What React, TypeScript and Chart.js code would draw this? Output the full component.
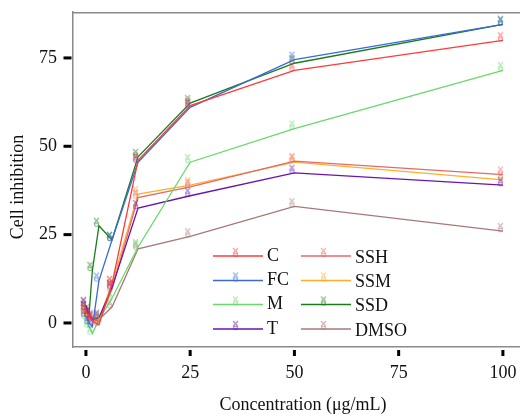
import React, { useEffect, useRef } from "react";
import { Chart, registerables } from "chart.js";

Chart.register(...registerables);

const concentrations = [0, 0.78, 1.56, 3.125, 6.25, 12.5, 25, 50, 100];
const seriesNames = ["C", "FC", "M", "T", "SSH", "SSM", "SSD", "DMSO"];
const C = [3, 2, 0.5, -0.5, 11, 46, 61.5, 71.5, 80];
const FC = [2, 0, -1, 12, 23.5, 45.5, 61, 74.5, 84.5];
const M = [1.5, -1, -3, 1, 7, 21.5, 45.5, 55, 71.5];
const T = [5, 2, 1, 1.5, 10, 32.5, 36, 42.5, 39];
const SSH = [4, 2, 1, 0.5, 9.5, 35.5, 38.5, 45.8, 42];
const SSM = [3, 1.5, 1, 1, 11, 36.5, 39, 45.5, 40.5];
const SSD = [4, 3, 15, 27.5, 23.5, 47, 62.2, 73.5, 84.5];
const DMSO = [5, 2, 1.5, 1, 4.5, 21, 24.5, 33, 26];
const seriesValues = [C, FC, M, T, SSH, SSM, SSD, DMSO];
const seriesColors = ["#ff3a3a", "#3a6ad8", "#6ad86a", "#6a14b0", "#e86868", "#ffae2a", "#1a7d1a", "#a87878"];
const xTicks = [0, 25, 50, 75, 100];
const yTicks = [0, 25, 50, 75];

const FONT = "'Liberation Serif', 'Times New Roman', serif";

function makeMarker(color: string): HTMLCanvasElement {
  const c = document.createElement("canvas");
  c.width = 18;
  c.height = 18;
  const ctx = c.getContext("2d")!;
  ctx.globalAlpha = 0.5;
  ctx.strokeStyle = color;
  ctx.lineWidth = 1.2;
  const cx = 6.5, cy = 5;
  ctx.beginPath();
  ctx.moveTo(cx - 2.5, cy - 4);
  ctx.lineTo(cx + 2.5, cy + 1.5);
  ctx.moveTo(cx + 2.5, cy - 4);
  ctx.lineTo(cx - 2.5, cy + 1.5);
  ctx.stroke();
  ctx.beginPath();
  ctx.ellipse(cx, cy + 3, 2, 1.6, 0, 0, Math.PI * 2);
  ctx.stroke();
  return c;
}

export default function App() {
  const ref = useRef<HTMLCanvasElement | null>(null);
  useEffect(() => {
    if (!ref.current) return;
    const markers = seriesColors.map((c) => makeMarker(c));
    const datasets = seriesNames.map((name, i) => ({
      label: name,
      data: concentrations.map((x, j) => ({ x, y: seriesValues[i][j] })),
      borderColor: seriesColors[i],
      backgroundColor: seriesColors[i],
      borderWidth: 1.3,
      pointStyle: markers[i] as any,
      pointRadius: 4,
      showLine: true,
      tension: 0,
    }));
    const decor = {
      id: "decor",
      afterDraw(chart: any) {
        const ctx = chart.ctx;
        const a = chart.chartArea;
        const xs = chart.scales.x;
        const ys = chart.scales.y;
        ctx.save();
        // top border
        ctx.strokeStyle = "#8a8a8a";
        ctx.lineWidth = 1.5;
        ctx.beginPath();
        ctx.moveTo(a.left, a.top + 0.75);
        ctx.lineTo(a.right, a.top + 0.75);
        ctx.stroke();
        // ticks and tick labels
        ctx.font = `18px ${FONT}`;
        ctx.textBaseline = "middle";
        ctx.textAlign = "center";
        xTicks.forEach((v) => {
          const px = xs.getPixelForValue(v);
          ctx.fillStyle = "#000";
          ctx.fillRect(px - 1.5, a.bottom + 3, 3, 6);
          ctx.fillStyle = "#111";
          ctx.fillText(String(v), px, 373);
        });
        ctx.textAlign = "right";
        yTicks.forEach((v) => {
          const py = ys.getPixelForValue(v);
          ctx.fillStyle = "#000";
          ctx.fillRect(a.left - 9.5, py - 1.5, 8, 3);
          ctx.fillStyle = "#111";
          ctx.fillText(String(v), 57, py);
        });
        // titles
        ctx.fillStyle = "#111";
        ctx.font = `18px ${FONT}`;
        ctx.textAlign = "center";
        ctx.textBaseline = "middle";
        ctx.fillText("Concentration (\u03bcg/mL)", 303, 405);
        ctx.save();
        ctx.translate(18, 187);
        ctx.rotate(-Math.PI / 2);
        ctx.fillText("Cell inhibition", 0, 0);
        ctx.restore();
        // legend
        const colX = [213, 301];
        const rowY = [256, 280.5, 304.5, 329];
        ctx.font = `18px ${FONT}`;
        ctx.textAlign = "left";
        seriesNames.forEach((name, i) => {
          const col = i < 4 ? 0 : 1;
          const row = i % 4;
          const x0 = colX[col];
          const y0 = rowY[row];
          ctx.strokeStyle = seriesColors[i];
          ctx.lineWidth = 1.3;
          ctx.beginPath();
          ctx.moveTo(x0, y0);
          ctx.lineTo(x0 + 50, y0);
          ctx.stroke();
          const m = markers[i];
          ctx.drawImage(m, x0 + 25 - m.width / 2, y0 - m.height / 2);
          ctx.fillStyle = "#111";
          ctx.fillText(name, x0 + 54, y0 + (col === 1 ? 2 : 0));
        });
        ctx.restore();
      },
    };
    const chart = new Chart(ref.current, {
      type: "scatter",
      data: { datasets: datasets as any },
      options: {
        animation: false,
        responsive: false,
        layout: { autoPadding: false, padding: { top: 12, right: 0, left: 0, bottom: 0 } },
        plugins: { legend: { display: false }, tooltip: { enabled: false } },
        scales: {
          x: {
            type: "linear",
            min: -3.1,
            max: 104.1,
            grid: { display: false, drawTicks: false },
            border: { display: true, color: "#8a8a8a", width: 1.5 },
            afterFit: (s: any) => {
              s.height = 69;
              s.paddingLeft = 0;
              s.paddingRight = 0;
            },
            ticks: { display: false },
          },
          y: {
            type: "linear",
            min: -6.8,
            max: 88,
            grid: { display: false, drawTicks: false },
            border: { display: true, color: "#8a8a8a", width: 1.5 },
            afterFit: (s: any) => {
              s.width = 73;
              s.paddingTop = 0;
              s.paddingBottom = 0;
            },
            ticks: { display: false },
          },
        },
      },
      plugins: [decor],
    });
    return () => chart.destroy();
  }, []);
  return (
    <div style={{ position: "absolute", left: 0, top: 0, width: 520, height: 416, background: "#fff" }}>
      <canvas ref={ref} width={520} height={416} style={{ width: 520, height: 416, display: "block" }} />
    </div>
  );
}
